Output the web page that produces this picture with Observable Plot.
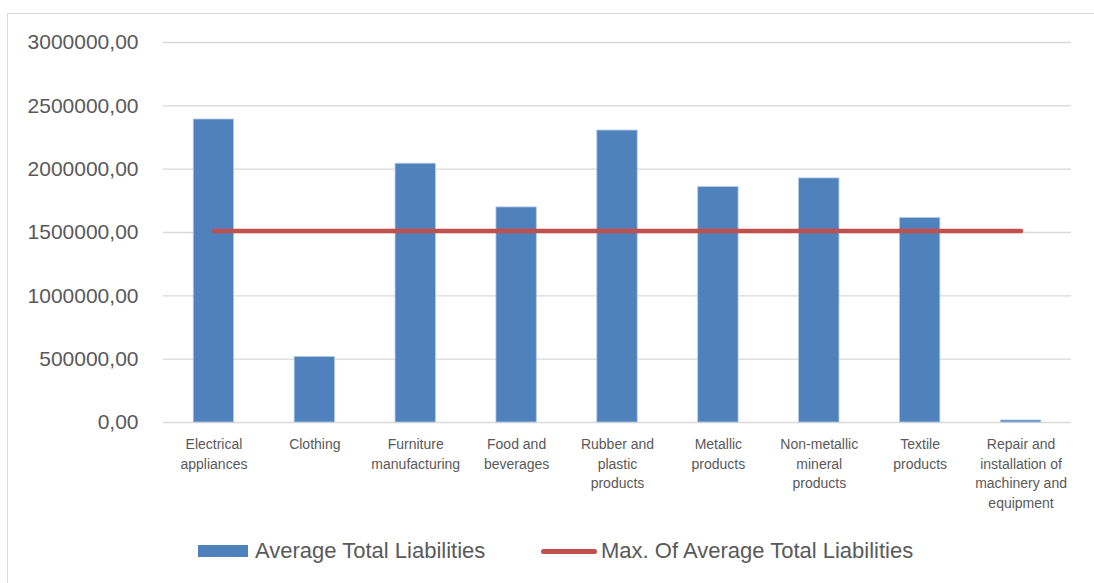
<!DOCTYPE html>
<html><head><meta charset="utf-8">
<script src="https://cdn.jsdelivr.net/npm/d3@7"></script>
<script src="https://cdn.jsdelivr.net/npm/@observablehq/plot@0.6"></script>
<style>
body{margin:0;background:#fff;font-family:"Liberation Sans",Arial,sans-serif;width:1094px;height:583px;overflow:hidden;position:relative;}
#frame{position:absolute;left:7px;top:13px;width:1100px;height:600px;border:1px solid #d9d9d9;box-sizing:border-box;}
#chart{position:absolute;left:0;top:0;}
.lg{position:absolute;}
.lgtext{position:absolute;font-size:22px;color:#595959;line-height:24px;top:539px;white-space:nowrap;}
</style></head>
<body>
<div id="frame"></div>
<div id="chart"></div>
<div class="lg" style="left:198px;top:545px;width:50px;height:12px;background:#4F81BD;"></div>
<div class="lgtext" style="left:255px;">Average Total Liabilities</div>
<div class="lg" style="left:541px;top:549px;width:56px;height:5px;background:#C0504D;border-radius:3px;"></div>
<div class="lgtext" style="left:601px;">Max. Of Average Total Liabilities</div>
<script>
const categories = ["Electrical appliances", "Clothing", "Furniture manufacturing", "Food and beverages", "Rubber and plastic products", "Metallic products", "Non-metallic mineral products", "Textile products", "Repair and installation of machinery and equipment"];
const tickLabels = ["Electrical\nappliances", "Clothing", "Furniture\nmanufacturing", "Food and\nbeverages", "Rubber and\nplastic\nproducts", "Metallic\nproducts", "Non-metallic\nmineral\nproducts", "Textile\nproducts", "Repair and\ninstallation of\nmachinery and\nequipment"];
const avgLiabilities = [2392000, 517000, 2043000, 1698000, 2305000, 1858000, 1927000, 1614000, 16000];
const maxOfAvg = [1511000, 1511000, 1511000, 1511000, 1511000, 1511000, 1511000, 1511000, 1511000];
const yTicks = [0, 500000, 1000000, 1500000, 2000000, 2500000, 3000000];

const bars = categories.map((c, i) => ({cat: c, v: avgLiabilities[i]}));
const line = categories.map((c, i) => ({cat: c, v: maxOfAvg[i]}));
const labelOf = new Map(categories.map((c, i) => [c, tickLabels[i]]));

const chart = Plot.plot({
  width: 1094,
  height: 525,
  marginLeft: 163,
  marginRight: 23,
  marginTop: 42,
  marginBottom: 103,
  style: {fontFamily: "Liberation Sans, Arial, sans-serif", background: "transparent"},
  x: {domain: categories, type: "band", paddingInner: 0.6, paddingOuter: 0.3, round: false, label: null},
  y: {domain: [0, 3000000], label: null},
  marks: [
    Plot.gridY(yTicks, {stroke: "#d9d9d9", strokeOpacity: 1, strokeWidth: 1.4}),
    Plot.barY(bars, {x: "cat", y: "v", fill: "#4F81BD", stroke: "#b4c8e4", strokeWidth: 0.8}),
    Plot.lineY(line, {x: "cat", y: "v", stroke: "#C0504D", strokeWidth: 4.5, strokeLinecap: "round"}),
    Plot.axisY({ticks: yTicks, tickSize: 0, tickPadding: 25, fontSize: 21, fill: "#595959", label: null,
      tickFormat: d => d.toFixed(2).replace(".", ",")}),
    Plot.axisX({tickSize: 0, tickPadding: 13, fontSize: 14, fill: "#595959", lineHeight: 1.39, label: null,
      tickFormat: d => labelOf.get(d)})
  ]
});
document.getElementById("chart").appendChild(chart);
</script>
</body></html>
